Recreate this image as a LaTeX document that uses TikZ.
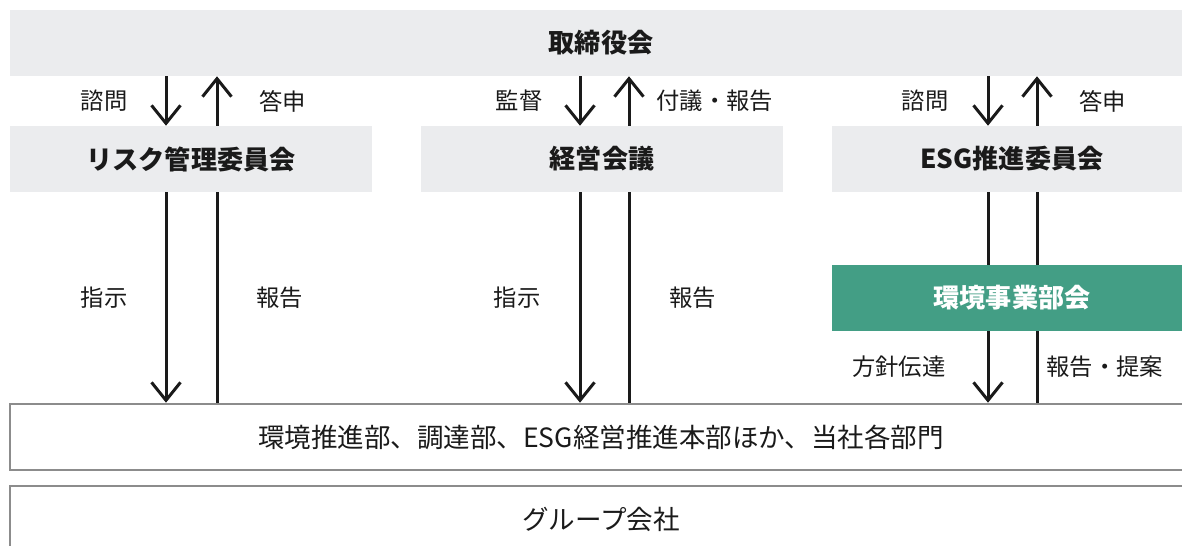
\documentclass[tikz,border=0pt]{standalone}
\usepackage{fontspec}
\setmainfont{Noto Sans CJK JP}
\usepackage{tikz}
\usetikzlibrary{arrows.meta}
\usetikzlibrary{positioning}
\definecolor{colorBox}{HTML}{EBECEE}
\definecolor{colorRule}{HTML}{8C8C8C}
\definecolor{colorBukai}{HTML}{439E85}
\definecolor{colorInk}{HTML}{1A1A1A}
\newcommand{\fsLab}{\fontsize{17.5}{21}\selectfont}
\newcommand{\fsBody}{\fontsize{19.9}{23}\selectfont}
\newcommand{\fsHead}{\fontsize{19.6}{23}\selectfont\bfseries}
\tikzset{
   every path/.style={>={Straight Barb[length=13.5pt,width=21.75pt]}},
   kai/.style={fill=colorBox,inner sep=0pt,minimum height=49.5pt,text=colorInk,font=\fsHead},
   bukai/.style={fill=colorBukai,inner sep=0pt,minimum height=49.5pt,text=white,font=\fsHead},
   bumon/.style={draw=colorRule,line width=1.9pt,fill=white,inner sep=0pt,minimum height=49.5pt,minimum width=886.5pt,text=colorInk,font=\fsBody},
   lab/.style={inner sep=0pt,text=colorInk,font=\fsLab},
   sasu/.style={->,line width=2.25pt,colorInk},
   sen/.style={-,line width=2.25pt,colorInk},
}

\begin{document}
\begin{tikzpicture}[x=0.75pt,y=-0.75pt]
  \clip (0,0) rectangle (1182,546);

  \node[kai,minimum width=886.5pt] (board)  at (601,  43) {取締役会};

  \node[kai,minimum width=271.5pt] (risk)   at (191, 159) {リスク管理委員会};
  \node[kai,minimum width=271.5pt] (keiei)  at (602, 159) {経営会議};
  \node[kai,minimum width=270pt]   (esg)    at (1012,159) {ESG推進委員会};

  \node[bukai,minimum width=270pt] (kankyo) at (1012,298) {環境事業部会};

  \node[bumon] (bumon) at (601, 437) {環境推進部、調達部、ESG経営推進本部ほか、当社各部門};
  \node[bumon] (group) at (601, 519) {グループ会社};

  \coordinate (rd) at (166, 0);
  \coordinate (ru) at (217, 0);
  \coordinate (kd) at (580, 0);
  \coordinate (ku) at (629, 0);
  \coordinate (ed) at (988, 0);
  \coordinate (eu) at (1037,0);

  \draw[sasu] (board.south -| rd) -- node[lab,left=27.75pt]  {諮問} (risk.north -| rd);
  \draw[sasu] (risk.north -| ru)  -- node[lab,right=30.75pt] {答申} (board.south -| ru);
  \draw[sasu] (board.south -| kd) -- node[lab,left=27pt]     {監督} (keiei.north -| kd);
  \draw[sasu] (keiei.north -| ku) -- node[lab,right=19.5pt]  {付議・報告} (board.south -| ku);
  \draw[sasu] (board.south -| ed) -- node[lab,left=28.5pt]   {諮問} (esg.north -| ed);
  \draw[sasu] (esg.north -| eu)   -- node[lab,right=30.75pt] {答申} (board.south -| eu);

  \draw[sasu] (risk.south -| rd)   -- node[lab,left=27.75pt]  {指示} (bumon.north -| rd);
  \draw[sen]  (bumon.north -| ru)  -- node[lab,right=28.5pt]  {報告} (risk.south -| ru);
  \draw[sasu] (keiei.south -| kd)  -- node[lab,left=28.5pt]   {指示} (bumon.north -| kd);
  \draw[sen]  (bumon.north -| ku)  -- node[lab,right=29.25pt] {報告} (keiei.south -| ku);

  \draw[sen]  (esg.south -| ed) -- (kankyo.north -| ed);
  \draw[sen]  (esg.south -| eu) -- (kankyo.north -| eu);
  \draw[sasu] (kankyo.south -| ed) -- node[lab,left=30.75pt] {方針伝達} (bumon.north -| ed);
  \draw[sen]  (bumon.north -| eu)  -- node[lab,right=6pt]    {報告・提案} (kankyo.south -| eu);
\end{tikzpicture}
\end{document}
